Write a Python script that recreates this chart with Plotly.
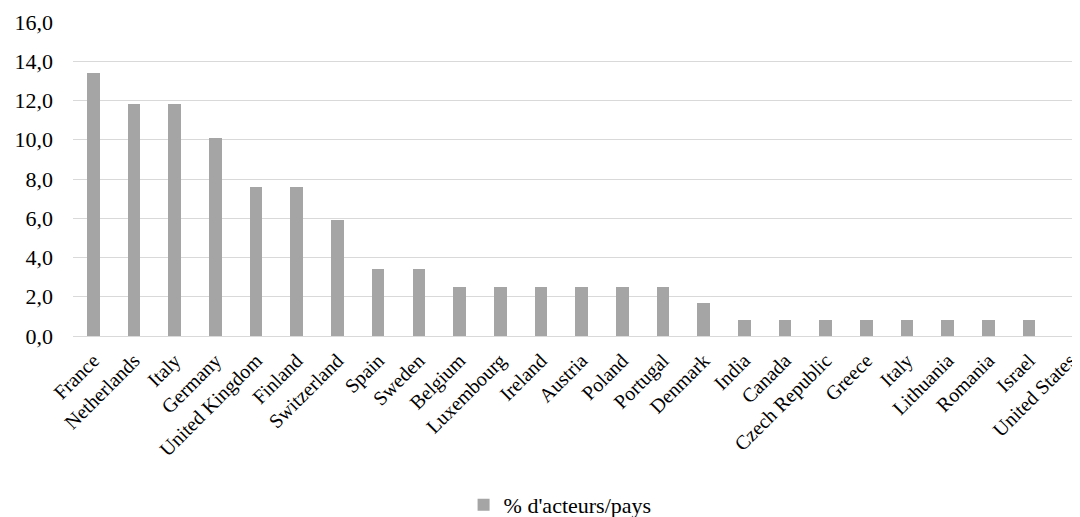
import plotly.graph_objects as go

countries = ["France", "Netherlands", "Italy", "Germany", "United Kingdom", "Finland",
             "Switzerland", "Spain", "Sweden", "Belgium", "Luxembourg", "Ireland",
             "Austria", "Poland", "Portugal", "Denmark", "India", "Canada",
             "Czech Republic", "Greece", "Italy", "Lithuania", "Romania", "Israel",
             "United States"]
values = [13.4, 11.8, 11.8, 10.1, 7.6, 7.6, 5.9, 3.4, 3.4, 2.5, 2.5, 2.5, 2.5, 2.5, 2.5,
          1.7, 0.8, 0.8, 0.8, 0.8, 0.8, 0.8, 0.8, 0.8, 0.0]
yticks = [0, 2, 4, 6, 8, 10, 12, 14, 16]
series_name = "% d'acteurs/pays"

positions = list(range(len(countries)))

fig = go.Figure()
fig.add_trace(go.Bar(x=positions, y=values, name=series_name,
                     marker=dict(color="#a5a5a5", line=dict(width=0)),
                     width=0.31, showlegend=True))

FF = "Times New Roman, Liberation Serif, serif"
fig.update_layout(
    width=1072, height=509,
    margin=dict(l=65, r=0, t=14, b=181, autoexpand=False),
    paper_bgcolor="white", plot_bgcolor="white",
    font=dict(family=FF, size=20, color="#000000"),
    separators=",.",
    showlegend=True,
    legend=dict(orientation="h", xref="container", x=0.515, xanchor="center",
                y=-0.538, yanchor="middle",
                font=dict(family=FF, size=22, color="#000000"), itemwidth=30),
    xaxis=dict(tickmode="array", tickvals=positions, ticktext=countries,
               tickangle=-45, range=[-0.5, 24.25], automargin=False,
               showgrid=False, showline=True, linecolor="#d9d9d9", linewidth=1,
               ticks="", ticklabelstandoff=4,
               tickfont=dict(family=FF, size=20, color="#000000")),
    yaxis=dict(range=[0, 16], tickvals=yticks, tickformat=".1f", automargin=False,
               showgrid=True, gridcolor="#d9d9d9", gridwidth=1,
               zeroline=False, showline=False, ticks="", ticklen=0,
               ticklabelstandoff=19,
               tickfont=dict(family=FF, size=22, color="#000000")),
    bargap=0,
)

fig.write_html("out.html")
